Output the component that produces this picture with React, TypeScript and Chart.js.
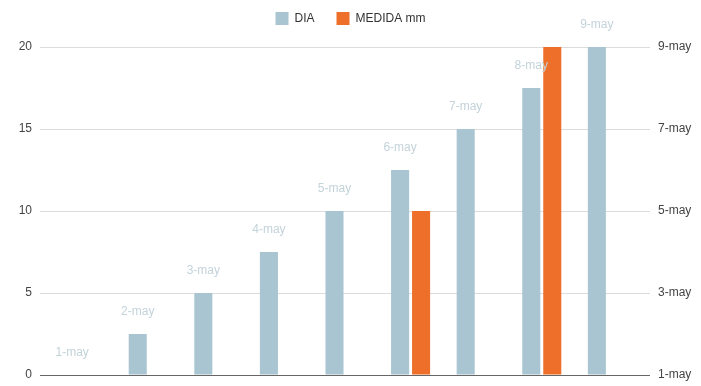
import React, { useEffect, useRef } from "react";
import { Chart, registerables } from "chart.js";

Chart.register(...registerables);

const CATEGORIES = ["1-may", "2-may", "3-may", "4-may", "5-may", "6-may", "7-may", "8-may", "9-may"];
const DIA = [0, 2.5, 5, 7.5, 10, 12.5, 15, 17.5, 20];
const MEDIDA: (number | null)[] = [null, null, null, null, null, 10, null, 20, null];
const LEFT_TICKS = [0, 5, 10, 15, 20];
const RIGHT_TICK_LABELS = ["1-may", "3-may", "5-may", "7-may", "9-may"];

const FONT = "Arial, 'Liberation Sans', sans-serif";

const barLabels = {
  id: "barLabels",
  afterDatasetsDraw(chart: any) {
    const meta = chart.getDatasetMeta(0);
    const ctx = chart.ctx;
    ctx.save();
    ctx.font = `12px ${FONT}`;
    ctx.fillStyle = "#c3d3da";
    ctx.textAlign = "center";
    ctx.textBaseline = "middle";
    meta.data.forEach((bar: any, i: number) => {
      ctx.fillText(CATEGORIES[i], bar.x, bar.y - 22);
    });
    ctx.restore();
  },
};

const legendSpace = {
  id: "legendSpace",
  beforeInit(chart: any) {
    const orig = chart.legend.fit;
    chart.legend.fit = function () {
      orig.call(this);
      this.height += 12;
    };
  },
};

export default function App() {
  const ref = useRef<HTMLCanvasElement | null>(null);

  useEffect(() => {
    const canvas = ref.current;
    if (!canvas) return;
    const chart = new Chart(canvas, {
      type: "bar",
      data: {
        datasets: [
          {
            label: "DIA",
            data: DIA.map((v, i) => ({ x: i, y: v })),
            backgroundColor: "#a9c5d1",
            yAxisID: "y",
          },
          {
            label: "MEDIDA mm",
            data: MEDIDA.map((v, i) => ({ x: i, y: v })),
            backgroundColor: "#ee6f2a",
            yAxisID: "y",
          },
        ],
      },
      plugins: [barLabels, legendSpace],
      options: {
        responsive: false,
        animation: false,
        maintainAspectRatio: false,
        categoryPercentage: 0.64,
        barPercentage: 0.86,
        layout: { padding: { top: -10, bottom: 11, left: 0, right: 0 } },
        plugins: {
          tooltip: { enabled: false },
          legend: {
            display: true,
            position: "top",
            align: "center",
            labels: {
              boxWidth: 13,
              boxHeight: 13,
              padding: 22,
              color: "#333",
              font: { family: FONT, size: 12 },
            },
          },
        },
        scales: {
          x: {
            type: "linear",
            display: false,
            offset: false,
            min: -0.65,
            max: 8.65,
            ticks: { stepSize: 1, includeBounds: false },
            grid: { display: false },
          },
          y: {
            position: "left",
            min: 0,
            max: 20,
            afterBuildTicks(scale: any) {
              scale.ticks = LEFT_TICKS.map((v) => ({ value: v }));
            },
            afterFit(scale: any) {
              scale.width = 40;
              scale.paddingTop = 0;
              scale.paddingBottom = 0;
            },
            border: { display: false },
            grid: {
              drawTicks: false,
              color: (c: any) => (c.tick && c.tick.value === 0 ? "#666" : "#dcdcdc"),
            },
            ticks: {
              padding: 8,
              color: "#444",
              font: { family: FONT, size: 12 },
            },
          },
          y1: {
            position: "right",
            min: 0,
            max: 20,
            afterBuildTicks(scale: any) {
              scale.ticks = LEFT_TICKS.map((v) => ({ value: v }));
            },
            afterFit(scale: any) {
              scale.width = 51;
              scale.paddingTop = 0;
              scale.paddingBottom = 0;
            },
            border: { display: false },
            grid: { display: false, drawTicks: false },
            ticks: {
              padding: 8,
              color: "#444",
              font: { family: FONT, size: 12 },
              callback: (value: any) => {
                const idx = LEFT_TICKS.indexOf(Number(value));
                return idx >= 0 ? RIGHT_TICK_LABELS[idx] : "";
              },
            },
          },
        },
      } as any,
    });
    return () => chart.destroy();
  }, []);

  return (
    <div style={{ position: "fixed", left: 0, top: 0, width: 701, height: 386, background: "#fff" }}>
      <canvas ref={ref} width={701} height={386} style={{ display: "block", width: 701, height: 386 }} />
    </div>
  );
}
